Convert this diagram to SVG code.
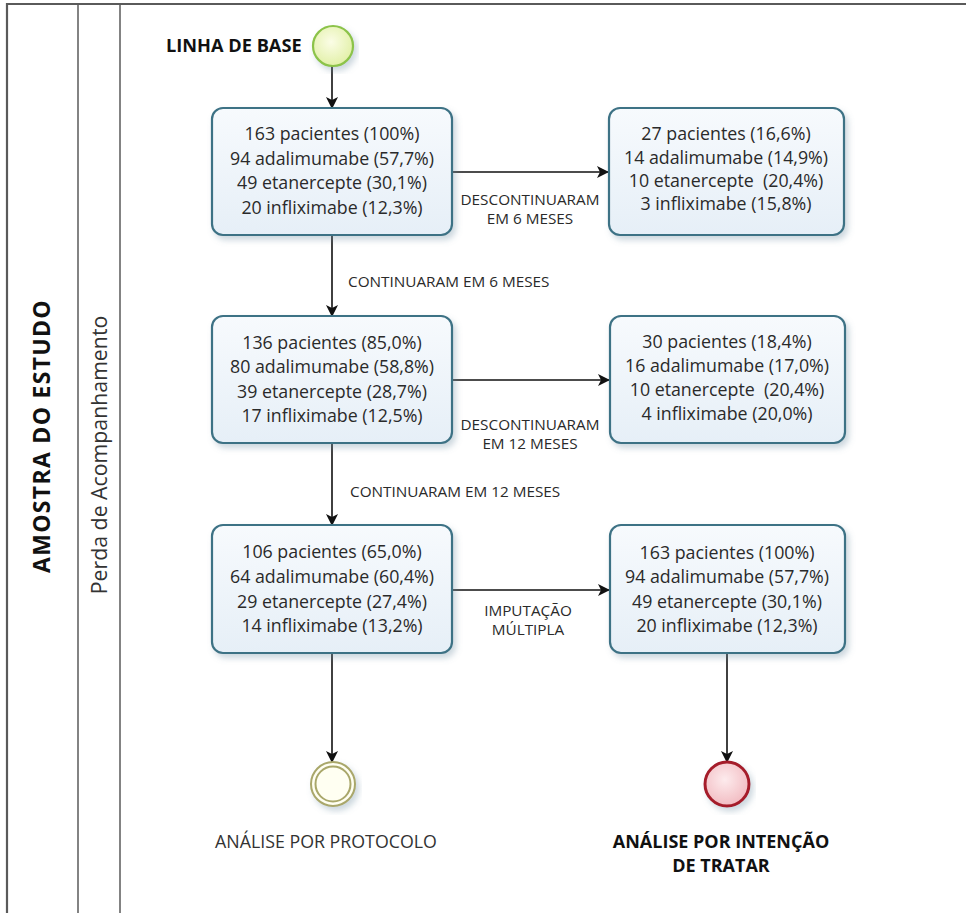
<svg xmlns="http://www.w3.org/2000/svg" width="966" height="913" viewBox="0 0 966 913">
<style>
.lane{stroke:#5a5a5a;fill:none}
.box{fill:url(#boxg);stroke:#3e7285;stroke-width:2.2;filter:url(#sh)}
.bt{font-family:"Open Sans","Noto Sans",sans-serif;font-size:17.8px;fill:#2a2a2a;text-anchor:middle}
.lbl{font-family:"Open Sans","Noto Sans",sans-serif;font-size:15.3px;fill:#2a2a2a}
.c{text-anchor:middle}
.bold{font-family:"Open Sans","Noto Sans",sans-serif;font-weight:bold;fill:#111}
.conn{stroke:#111;stroke-width:1.6;fill:none;marker-end:url(#ah)}
</style>
<defs>
<linearGradient id="boxg" x1="0" y1="0" x2="0" y2="1">
<stop offset="0" stop-color="#f7fafd"/><stop offset="1" stop-color="#e6eff7"/>
</linearGradient>
<radialGradient id="startg" cx="0.45" cy="0.4" r="0.6">
<stop offset="0" stop-color="#fbfde6"/><stop offset="1" stop-color="#e2f0a8"/>
</radialGradient>
<radialGradient id="redg" cx="0.45" cy="0.4" r="0.6">
<stop offset="0" stop-color="#fdebed"/><stop offset="1" stop-color="#f2bcc2"/>
</radialGradient>
<filter id="sh" x="-10%" y="-10%" width="125%" height="130%">
<feDropShadow dx="3" dy="4" stdDeviation="3" flood-color="#6b8aa0" flood-opacity="0.35"/>
</filter>
<marker id="ah" viewBox="0 0 12 12" refX="11" refY="6" markerWidth="12" markerHeight="12" markerUnits="userSpaceOnUse" orient="auto">
<path d="M0,0 L12,6 L0,12 L3,6 Z" fill="#111"/>
</marker>
</defs>

<g id="lanes">
<line class="lane" x1="7" y1="4" x2="966" y2="4" stroke-width="2.2"/>
<line class="lane" x1="7" y1="3" x2="7" y2="913" stroke-width="2.2"/>
<line class="lane" x1="78" y1="4" x2="78" y2="913" stroke-width="1.5"/>
<line class="lane" x1="120" y1="4" x2="120" y2="913" stroke-width="1.5"/>
<text class="bold" font-size="23" letter-spacing="1.3" text-anchor="middle" transform="translate(50,436) rotate(-90)">AMOSTRA DO ESTUDO</text>
<text font-family="'Open Sans','Noto Sans',sans-serif" font-size="21.3" fill="#333" text-anchor="middle" transform="translate(107,455) rotate(-90)">Perda de Acompanhamento</text>
</g>

<g id="connectors">
<line class="conn" x1="332" y1="66" x2="332" y2="108"/>
<line class="conn" x1="452" y1="172" x2="608" y2="172"/>
<line class="conn" x1="332" y1="235" x2="332" y2="316"/>
<line class="conn" x1="452" y1="380" x2="609" y2="380"/>
<line class="conn" x1="332" y1="443" x2="332" y2="525"/>
<line class="conn" x1="452" y1="590" x2="609" y2="590"/>
<line class="conn" x1="332" y1="653" x2="332" y2="762"/>
<line class="conn" x1="727" y1="653" x2="727" y2="762"/>
<text class="lbl c" x="530" y="205">DESCONTINUARAM</text>
<text class="lbl c" x="530" y="224">EM 6 MESES</text>
<text class="lbl" x="348" y="287">CONTINUARAM EM 6 MESES</text>
<text class="lbl c" x="530" y="430">DESCONTINUARAM</text>
<text class="lbl c" x="530" y="449">EM 12 MESES</text>
<text class="lbl" x="350" y="497">CONTINUARAM EM 12 MESES</text>
<text class="lbl c" x="528" y="616">IMPUTAÇÃO</text>
<text class="lbl c" x="528" y="635">MÚLTIPLA</text>
</g>

<g id="start">
<circle cx="333" cy="46" r="20" fill="url(#startg)" stroke="#8cc34a" stroke-width="2.2" filter="url(#sh)"/>
<text class="bold" font-size="18.2" x="166" y="52">LINHA DE BASE</text>
</g>

<g id="baseline">
<rect class="box" x="212" y="108" width="240" height="127" rx="11"/>
<text class="bt" x="332" y="140">163 pacientes (100%)</text>
<text class="bt" x="332" y="165">94 adalimumabe (57,7%)</text>
<text class="bt" x="332" y="189">49 etanercepte (30,1%)</text>
<text class="bt" x="332" y="214">20 infliximabe (12,3%)</text>
</g>

<g id="desc6">
<rect class="box" x="609" y="108" width="235" height="127" rx="11"/>
<text class="bt" x="726" y="140">27 pacientes (16,6%)</text>
<text class="bt" x="726" y="164">14 adalimumabe (14,9%)</text>
<text class="bt" x="726" y="187" xml:space="preserve">10 etanercepte  (20,4%)</text>
<text class="bt" x="726" y="210">3 infliximabe (15,8%)</text>
</g>

<g id="cont6">
<rect class="box" x="212" y="316" width="240" height="127" rx="11"/>
<text class="bt" x="332" y="349">136 pacientes (85,0%)</text>
<text class="bt" x="332" y="373">80 adalimumabe (58,8%)</text>
<text class="bt" x="332" y="398">39 etanercepte (28,7%)</text>
<text class="bt" x="332" y="422">17 infliximabe (12,5%)</text>
</g>

<g id="desc12">
<rect class="box" x="610" y="316" width="235" height="127" rx="11"/>
<text class="bt" x="727" y="348">30 pacientes (18,4%)</text>
<text class="bt" x="727" y="372">16 adalimumabe (17,0%)</text>
<text class="bt" x="727" y="396" xml:space="preserve">10 etanercepte  (20,4%)</text>
<text class="bt" x="727" y="420">4 infliximabe (20,0%)</text>
</g>

<g id="cont12">
<rect class="box" x="212" y="525" width="240" height="128" rx="11"/>
<text class="bt" x="332" y="558">106 pacientes (65,0%)</text>
<text class="bt" x="332" y="583">64 adalimumabe (60,4%)</text>
<text class="bt" x="332" y="608">29 etanercepte (27,4%)</text>
<text class="bt" x="332" y="632">14 infliximabe (13,2%)</text>
</g>

<g id="imput">
<rect class="box" x="610" y="525" width="235" height="128" rx="11"/>
<text class="bt" x="727" y="559">163 pacientes (100%)</text>
<text class="bt" x="727" y="583">94 adalimumabe (57,7%)</text>
<text class="bt" x="727" y="608">49 etanercepte (30,1%)</text>
<text class="bt" x="727" y="632">20 infliximabe (12,3%)</text>
</g>

<g id="protocolo">
<circle cx="333" cy="784" r="22" fill="#fffff2" stroke="#a9a76a" stroke-width="2" filter="url(#sh)"/>
<circle cx="333" cy="784" r="17.5" fill="none" stroke="#a9a76a" stroke-width="2"/>
<text font-family="'Open Sans','Noto Sans',sans-serif" font-size="17.8" fill="#333" x="326" y="848" text-anchor="middle">ANÁLISE POR PROTOCOLO</text>
</g>

<g id="itt">
<circle cx="727" cy="784" r="22" fill="url(#redg)" stroke="#a51e2b" stroke-width="3" filter="url(#sh)"/>
<text class="bold" font-size="18" x="721" y="848" text-anchor="middle">ANÁLISE POR INTENÇÃO</text>
<text class="bold" font-size="18" x="721" y="872" text-anchor="middle">DE TRATAR</text>
</g>
</svg>
